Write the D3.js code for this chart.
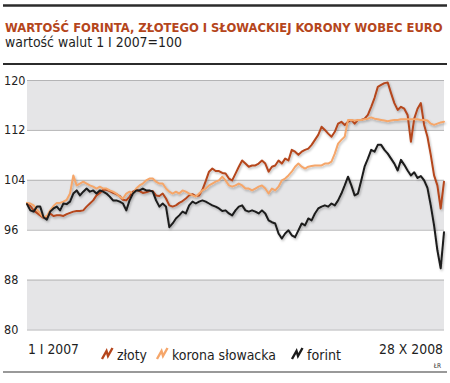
<!DOCTYPE html>
<html><head><meta charset="utf-8">
<script src="https://cdn.jsdelivr.net/npm/d3@7"></script>
<style>
html,body{margin:0;padding:0;background:#fff;}
svg{display:block;}
text{font-family:"Liberation Sans Narrow","DejaVu Sans Condensed","Roboto Condensed",sans-serif;}
</style></head><body>
<svg id="c" width="450" height="383"></svg>
<script>
// ---- data (index, 1 I 2007 = 100), evenly spaced samples 1 I 2007 .. 28 X 2008 ----
const startDate = "2007-01-01";
const endDate = "2008-10-28";
const yTicks = [80, 88, 96, 104, 112, 120];
const bands = [[112, 120], [96, 104], [80, 88]];
const series = ["złoty", "korona słowacka", "forint"];
const colors = ["#b5461c", "#f5a66a", "#1b1b1b"];

const zloty = [
100.2,99.8,99.1,98.7,98.3,97.9,98.0,98.6,98.2,98.3,
98.3,98.2,98.5,98.7,98.9,99.0,99.0,99.1,99.7,100.2,
100.7,101.5,101.9,102.4,102.4,102.2,101.9,101.7,101.4,100.8,
100.7,101.3,102.1,102.4,102.2,101.9,102.0,102.2,102.2,101.5,
101.4,101.8,101.0,99.9,99.7,99.9,100.3,100.6,101.0,101.5,
101.7,101.4,101.5,102.4,103.8,105.3,105.8,105.4,105.4,105.1,
105.0,104.2,103.9,105.0,106.1,107.1,106.6,106.1,106.3,106.3,
106.6,107.1,106.6,105.3,106.1,106.3,107.1,106.6,107.4,107.1,
108.8,108.5,108.0,108.5,108.8,109.0,109.6,110.4,111.2,112.5,
112.0,111.4,110.9,111.7,113.0,113.3,112.8,113.3,113.6,113.0,
113.6,113.6,113.8,114.4,115.7,117.1,118.9,119.2,119.5,119.6,
117.9,116.3,115.2,115.7,115.4,114.4,110.1,113.8,115.4,116.3,
112.8,110.9,108.0,104.7,103.1,99.4,103.7
];
const korona = [
100.3,100.2,99.9,99.2,98.6,98.0,98.2,99.1,99.8,100.3,
100.3,100.5,100.8,101.8,104.7,103.1,103.4,103.7,103.4,103.1,
102.9,102.6,102.9,102.6,102.6,102.3,102.1,101.8,101.3,101.0,
101.8,102.1,101.8,102.6,103.1,103.4,103.9,104.2,104.2,103.7,
103.4,103.4,102.6,102.1,101.8,102.1,101.8,102.3,102.1,101.8,
101.5,101.3,101.8,102.3,102.6,103.1,103.4,103.7,103.9,104.5,
103.9,103.1,102.9,103.1,103.4,103.1,102.6,102.6,102.3,102.6,
102.9,103.1,102.6,101.8,102.6,102.3,102.9,103.9,104.2,104.7,
105.3,106.1,106.6,106.1,105.8,106.1,106.2,106.3,106.3,106.3,
106.6,106.6,106.9,108.2,109.8,110.4,110.9,113.6,113.6,113.5,
113.6,113.6,113.7,113.8,114.0,113.8,113.7,113.6,113.5,113.4,
113.5,113.6,113.6,113.7,113.7,113.7,113.7,113.7,113.7,113.6,
113.6,113.5,113.0,112.8,113.0,113.2,113.3
];
const forint = [
100.1,99.1,98.9,99.7,99.7,98.0,97.6,98.9,99.4,99.7,
99.1,100.2,100.1,100.5,101.8,102.3,101.5,102.1,102.6,102.1,
102.3,101.8,102.3,102.1,101.8,101.3,100.7,100.7,100.5,100.2,
99.1,100.7,101.8,102.3,102.3,102.6,102.3,102.3,102.1,100.7,
99.7,100.2,99.7,96.4,97.0,97.8,98.3,98.9,98.6,99.9,
100.5,100.2,100.5,100.7,100.5,100.2,99.9,99.7,99.4,99.0,
99.1,98.6,98.3,99.1,99.7,99.9,99.1,98.9,99.1,98.9,
98.6,99.1,98.6,97.5,97.2,97.0,95.4,94.6,95.4,95.9,
95.1,94.8,95.9,97.0,96.7,97.8,97.5,98.6,99.4,99.7,
99.9,99.7,100.2,99.9,100.7,101.8,103.1,104.5,103.1,101.5,
101.8,103.9,106.1,107.4,108.8,108.5,109.6,109.6,108.8,108.2,
107.4,106.6,105.5,107.2,106.4,105.5,104.7,105.2,104.3,104.6,
103.9,102.7,99.9,96.7,92.7,89.8,95.6
];
const seriesValues = [zloty, korona, forint];

// ---- drawing ----
const svg = d3.select("#c");
const t0 = new Date(startDate + "T00:00:00"), t1 = new Date(endDate + "T00:00:00");
const x = d3.scaleTime().domain([t0, t1]).range([27, 444]);
const y = d3.scaleLinear().domain([80, 120]).range([329.5, 80]);

// shrink a text's font so that its natural width matches the target width
function fit(sel, target, size) {
  sel.attr("font-size", size);
  const w = sel.node().getComputedTextLength();
  if (w > 0) sel.attr("font-size", Math.min(size * 1.25, size * target / w).toFixed(2));
  return sel;
}

const defs = svg.append("defs");
const f = defs.append("filter").attr("id", "sh").attr("x", "-5%").attr("y", "-5%").attr("width", "110%").attr("height", "110%");
f.append("feDropShadow").attr("dx", 1).attr("dy", 1.5).attr("stdDeviation", 0.9)
 .attr("flood-color", "#000").attr("flood-opacity", 0.28);

// rules and title
svg.append("line").attr("x1", 3).attr("x2", 447).attr("y1", 5.5).attr("y2", 5.5)
  .attr("stroke", "#2b2b2b").attr("stroke-width", 2.5);
fit(svg.append("text").attr("x", 5).attr("y", 31.5).attr("fill", "#b5461c")
  .attr("font-weight", "bold")
  .text("WARTOŚĆ FORINTA, ZŁOTEGO I SŁOWACKIEJ KORONY WOBEC EURO"), 438, 15);
fit(svg.append("text").attr("x", 5).attr("y", 47).attr("fill", "#1e1e1e")
  .text("wartość walut 1 I 2007=100"), 177, 15);
svg.append("line").attr("x1", 3).attr("x2", 447).attr("y1", 64).attr("y2", 64)
  .attr("stroke", "#2b2b2b").attr("stroke-width", 2);

// bands
svg.append("g").selectAll("rect").data(bands).join("rect")
  .attr("x", 27).attr("width", 417)
  .attr("y", d => y(d[1])).attr("height", d => y(d[0]) - y(d[1]))
  .attr("fill", "#e5e5e7");

// y axis with gridlines
const yAxis = d3.axisLeft(y).tickValues(yTicks).tickSize(-417).tickPadding(5).tickFormat(d3.format("d"));
const gy = svg.append("g").attr("transform", "translate(27,0)").call(yAxis);
gy.select(".domain").remove();
gy.selectAll(".tick line").attr("stroke", "#b4b4b6").attr("stroke-width", 1);
gy.selectAll(".tick text").attr("x", -23).attr("text-anchor", "start")
  .attr("font-size", 12.5).attr("fill", "#222")
  .attr("font-family", "'Liberation Sans Narrow','DejaVu Sans Condensed',sans-serif");

// lines
const n = zloty.length;
const dates = d3.range(n).map(i => new Date(+t0 + (t1 - t0) * i / (n - 1)));
const line = d3.line().x((d, i) => x(dates[i])).y(d => y(d));
const gl = svg.append("g").attr("filter", "url(#sh)");
seriesValues.forEach((vals, k) => {
  gl.append("path").datum(vals).attr("d", line)
    .attr("fill", "none").attr("stroke", colors[k]).attr("stroke-width", 2)
    .attr("stroke-linejoin", "round").attr("stroke-linecap", "round");
});

// x labels
fit(svg.append("text").attr("x", 28).attr("y", 354).attr("fill", "#1e1e1e")
  .text("1 I 2007"), 51, 16);
fit(svg.append("text").attr("x", 443).attr("y", 354).attr("fill", "#1e1e1e")
  .attr("text-anchor", "end").text("28 X 2008"), 64, 16);

// legend
const legX = [101, 156, 291];
const legLen = [30, 104, 34];
const lg = svg.append("g");
series.forEach((s, k) => {
  const g = lg.append("g").attr("transform", `translate(${legX[k]},347)`);
  g.append("path").attr("d", "M1,12 L5.5,4 L7,9 L11.5,1")
    .attr("fill", "none").attr("stroke", colors[k]).attr("stroke-width", 2.4)
    .attr("stroke-linejoin", "miter");
  fit(g.append("text").attr("x", 16).attr("y", 13).attr("fill", "#1e1e1e").text(s), legLen[k], 16);
});

// bottom rule + credit
svg.append("line").attr("x1", 3).attr("x2", 447).attr("y1", 372).attr("y2", 372)
  .attr("stroke", "#777").attr("stroke-width", 1.5);
svg.append("text").attr("x", 441).attr("y", 368).attr("font-size", 6.5).attr("fill", "#333")
  .attr("text-anchor", "end").text("ŁR");
</script>
</body></html>
